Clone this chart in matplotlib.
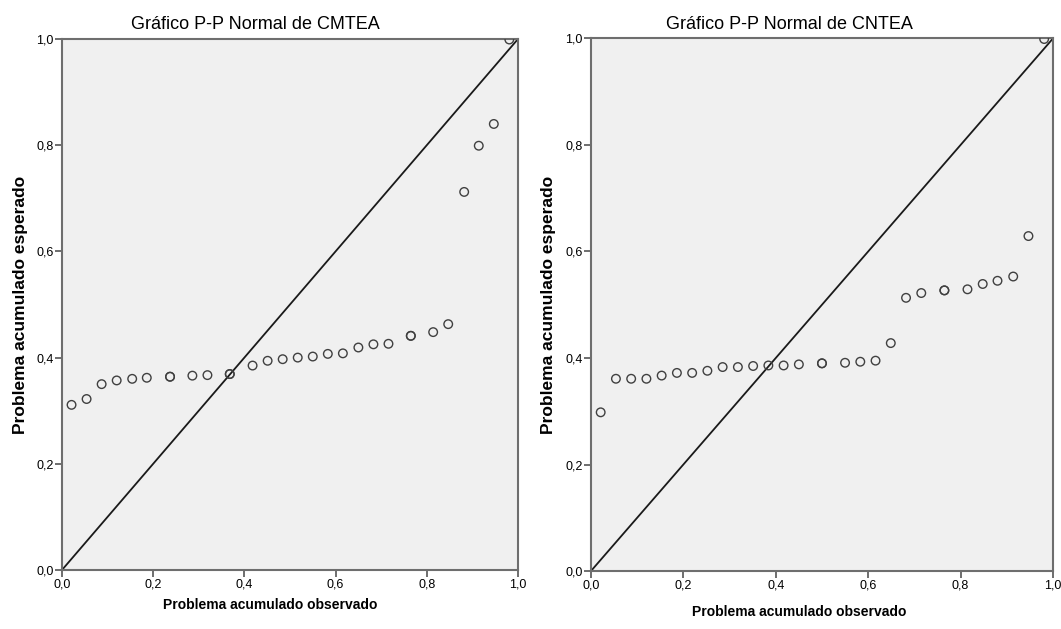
import matplotlib
matplotlib.use("Agg")
import matplotlib.pyplot as plt
from matplotlib.ticker import FuncFormatter

plt.rcParams['font.family'] = ['Liberation Sans', 'DejaVu Sans']

cmtea_obs = [0.021, 0.054, 0.087, 0.120, 0.154, 0.186, 0.237, 0.237, 0.286, 0.319,
             0.368, 0.368, 0.418, 0.451, 0.484, 0.517, 0.550, 0.583, 0.616, 0.650,
             0.683, 0.716, 0.765, 0.765, 0.814, 0.847, 0.882, 0.914, 0.947, 0.981]
cmtea_exp = [0.311, 0.322, 0.350, 0.357, 0.360, 0.362, 0.364, 0.364, 0.366, 0.367,
             0.369, 0.369, 0.385, 0.394, 0.397, 0.400, 0.402, 0.407, 0.408, 0.419,
             0.425, 0.426, 0.441, 0.441, 0.448, 0.463, 0.712, 0.799, 0.840, 0.999]

cntea_obs = [0.021, 0.054, 0.087, 0.120, 0.153, 0.186, 0.219, 0.252, 0.285, 0.318,
             0.351, 0.384, 0.417, 0.450, 0.500, 0.500, 0.550, 0.583, 0.616, 0.649,
             0.682, 0.715, 0.765, 0.765, 0.815, 0.848, 0.880, 0.914, 0.947, 0.981]
cntea_exp = [0.298, 0.361, 0.361, 0.361, 0.367, 0.372, 0.372, 0.376, 0.383, 0.383,
             0.385, 0.386, 0.386, 0.388, 0.390, 0.390, 0.391, 0.393, 0.395, 0.428,
             0.513, 0.522, 0.527, 0.527, 0.529, 0.539, 0.545, 0.553, 0.629, 0.999]

titles = ["Gráfico P-P Normal de CMTEA", "Gráfico P-P Normal de CNTEA"]
ticks = [0.0, 0.2, 0.4, 0.6, 0.8, 1.0]

fig = plt.figure(figsize=(10.61, 6.29), dpi=100)
ax1 = fig.add_axes([0.0584, 0.0938, 0.4298, 0.8442])
ax2 = fig.add_axes([0.557, 0.0922, 0.4354, 0.8466])

comma = FuncFormatter(lambda v, p: f"{v:.1f}".replace('.', ','))

# (axes, x, y, title, title x, xlabel x, xlabel y, ylabel x)
# SPSS puts the texts a bit left of centre
panels = [(ax1, cmtea_obs, cmtea_exp, titles[0], 0.425, 0.456, -0.066, -0.092),
          (ax2, cntea_obs, cntea_exp, titles[1], 0.429, 0.450, -0.077, -0.093)]

for ax, obs, exp, title, tx, xlx, xly, ylx in panels:
    ax.set_facecolor('#f0f0f0')
    ax.plot([0, 1], [0, 1], color='#1a1a1a', lw=1.3, zorder=2)
    ax.scatter(obs, exp, s=38, facecolors='none', edgecolors='#404040',
               linewidths=1.0, zorder=3)
    ax.set_xlim(0, 1)
    ax.set_ylim(0, 1)
    ax.set_xticks(ticks)
    ax.set_yticks(ticks)
    ax.xaxis.set_major_formatter(comma)
    ax.yaxis.set_major_formatter(comma)
    ax.tick_params(direction='out', length=5, width=1.2, color='#555555',
                   labelsize=9, pad=1)
    for s in ax.spines.values():
        s.set_color('#6e6e6e')
        s.set_linewidth(1.5)
    ax.set_title(title, fontsize=13, x=tx, pad=7)
    ax.set_xlabel("Problema acumulado observado", fontsize=10, fontweight='bold')
    ax.set_ylabel("Problema acumulado esperado", fontsize=12.5, fontweight='bold')
    ax.xaxis.label.set_va('center')
    ax.yaxis.label.set_va('center')
    ax.xaxis.set_label_coords(xlx, xly)
    ax.yaxis.set_label_coords(ylx, 0.5)

fig.savefig("out.png", dpi=100)
